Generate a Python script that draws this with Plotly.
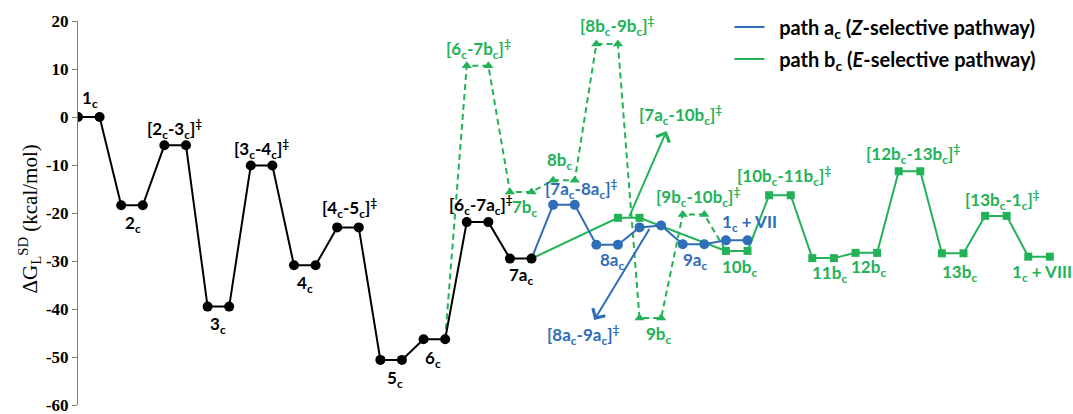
"""Free-energy profile for the Z- and E-selective pathways."""

import plotly.graph_objects as go

# reaction coordinate slots and free energies (kcal/mol)
common_x = list(range(22))
common_dg = [0.0, 0.0, -18.4, -18.4, -5.9, -5.9, -39.5, -39.5, -10.1, -10.1,
             -30.9, -30.9, -23.0, -23.0, -50.6, -50.6, -46.3, -46.3,
             -21.9, -21.9, -29.5, -29.5]

path_a_x = [21, 22, 23, 24, 25, 26, 27, 28, 29, 30, 31]
path_a_dg = [-29.5, -18.3, -18.3, -26.6, -26.6, -23.0, -22.6,
             -26.5, -26.5, -25.7, -25.7]

path_b_x = [21, 25, 26, 30, 31, 32, 33, 34, 35, 36, 37, 38, 39,
            40, 41, 42, 43, 44, 45]
path_b_dg = [-29.5, -21.0, -21.0, -27.9, -27.9, -16.3, -16.3, -29.4, -29.4,
             -28.3, -28.3, -11.3, -11.3, -28.4, -28.4, -20.6, -20.6,
             -29.1, -29.1]

path_b_high_x = [17, 18, 19, 20, 21, 22, 23, 24, 25, 26, 27, 28, 29, 30]
path_b_high_dg = [-46.3, 10.7, 10.7, -15.6, -15.6, -13.2, -13.2, 15.2, 15.2,
                  -41.9, -41.9, -20.3, -20.3, -27.9]

y_ticks = [20, 10, 0, -10, -20, -30, -40, -50, -60]

# state labels: (text, x, y)
common_labels = [
    ("1<sub>c</sub>", 0.55, 3.7),
    ("2<sub>c</sub>", 2.55, -22.3),
    ("[2<sub>c</sub>-3<sub>c</sub>]<sup>‡</sup>", 4.45, -2.6),
    ("3<sub>c</sub>", 6.5, -43.3),
    ("[3<sub>c</sub>-4<sub>c</sub>]<sup>‡</sup>", 8.5, -6.7),
    ("4<sub>c</sub>", 10.5, -34.7),
    ("[4<sub>c</sub>-5<sub>c</sub>]<sup>‡</sup>", 12.55, -19.0),
    ("5<sub>c</sub>", 14.7, -54.5),
    ("6<sub>c</sub>", 16.45, -50.4),
    ("[6<sub>c</sub>-7a<sub>c</sub>]<sup>‡</sup>", 18.65, -18.4),
    ("7a<sub>c</sub>", 20.55, -33.2),
]
path_a_labels = [
    ("[7a<sub>c</sub>-8a<sub>c</sub>]<sup>‡</sup>", 23.3, -14.9),
    ("8a<sub>c</sub>", 24.75, -29.9),
    ("9a<sub>c</sub>", 28.6, -29.9),
    ("1<sub>c</sub> + VII", 31.1, -22.0),
    ("[8a<sub>c</sub>-9a<sub>c</sub>]<sup>‡</sup>", 23.4, -45.4),
]
path_b_labels = [
    ("[6<sub>c</sub>-7b<sub>c</sub>]<sup>‡</sup>", 18.55, 14.1),
    ("7b<sub>c</sub>", 20.7, -18.9),
    ("8b<sub>c</sub>", 22.3, -9.2),
    ("[8b<sub>c</sub>-9b<sub>c</sub>]<sup>‡</sup>", 25.0, 19.0),
    ("[7a<sub>c</sub>-10b<sub>c</sub>]<sup>‡</sup>", 27.9, 0.4),
    ("[9b<sub>c</sub>-10b<sub>c</sub>]<sup>‡</sup>", 28.7, -16.6),
    ("9b<sub>c</sub>", 26.9, -45.4),
    ("10b<sub>c</sub>", 30.65, -31.4),
    ("[10b<sub>c</sub>-11b<sub>c</sub>]<sup>‡</sup>", 32.7, -12.2),
    ("11b<sub>c</sub>", 34.8, -32.8),
    ("12b<sub>c</sub>", 36.6, -31.5),
    ("[12b<sub>c</sub>-13b<sub>c</sub>]<sup>‡</sup>", 38.65, -7.7),
    ("13b<sub>c</sub>", 40.8, -32.6),
    ("[13b<sub>c</sub>-1<sub>c</sub>]<sup>‡</sup>", 42.8, -17.2),
    ("1<sub>c</sub> + VIII", 44.65, -32.6),
]

# pointer arrows: (tail x, tail y, head x, head y)
arrow_a = (26.5, -23.0, 23.9, -42.3)
arrow_b = (25.5, -21.0, 27.25, -2.9)

BLACK = "#000000"
BLUE = "#2E6DB8"
GREEN = "#22B257"
LABEL_FONT = "Lato"


def solid_marker(symbol, size, color):
    # a size array makes plotly treat the trace as a bubble chart, which
    # fades the markers and outlines them in white; switch that off
    return dict(symbol=symbol, size=size, color=color, opacity=1, line=dict(width=0))


fig = go.Figure()

# the first/last point of each coloured path sits on a state drawn by another trace
fig.add_trace(go.Scatter(
    x=path_b_high_x, y=path_b_high_dg,
    mode="lines+markers",
    line=dict(color=GREEN, width=2, dash="6px,4px"),
    marker=solid_marker("triangle-up", [0] + [9] * (len(path_b_high_x) - 2) + [0], GREEN),
    showlegend=False, hoverinfo="skip",
))
fig.add_trace(go.Scatter(
    x=path_b_x, y=path_b_dg,
    mode="lines+markers",
    line=dict(color=GREEN, width=2),
    marker=solid_marker("square", [0] + [8] * (len(path_b_x) - 1), GREEN),
    showlegend=False, hoverinfo="skip",
))
fig.add_trace(go.Scatter(
    x=path_a_x, y=path_a_dg,
    mode="lines+markers",
    line=dict(color=BLUE, width=2),
    marker=solid_marker("circle", [0] + [10] * (len(path_a_x) - 1), BLUE),
    showlegend=False, hoverinfo="skip",
))
fig.add_trace(go.Scatter(
    x=common_x, y=common_dg,
    mode="lines+markers",
    line=dict(color=BLACK, width=2),
    marker=solid_marker("circle", 10, BLACK),
    showlegend=False, hoverinfo="skip",
))

# legend-only entries
fig.add_trace(go.Scatter(
    x=[None], y=[None], mode="lines", line=dict(color=BLUE, width=2),
    name="\u00a0\u00a0path a<sub>c</sub> (<i>Z</i>-selective pathway)", legendgroup="a",
))
fig.add_trace(go.Scatter(
    x=[None], y=[None], mode="lines", line=dict(color=GREEN, width=2),
    name="\u00a0\u00a0path b<sub>c</sub> (<i>E</i>-selective pathway)", legendgroup="b",
))

for labels, color in ((common_labels, BLACK), (path_a_labels, BLUE), (path_b_labels, GREEN)):
    for text, lx, ly in labels:
        fig.add_annotation(
            x=lx, y=ly, text=text, showarrow=False,
            font=dict(family=LABEL_FONT, size=17, color=color, weight="bold"),
        )

for (tx, ty, hx, hy), color in ((arrow_a, BLUE), (arrow_b, GREEN)):
    fig.add_annotation(
        x=hx, y=hy, ax=tx, ay=ty, xref="x", yref="y", axref="x", ayref="y",
        text="", showarrow=True, arrowhead=4, arrowsize=1.4, arrowwidth=2,
        arrowcolor=color, standoff=0, startstandoff=0,
    )

# y-axis title as a rotated annotation so it can sit where the original does
fig.add_annotation(
    xref="paper", yref="paper", x=-0.049, y=0.485,
    xanchor="center", yanchor="middle", textangle=-90, showarrow=False,
    text="ΔG<sub>L</sub><sup>SD</sup> (kcal/mol)",
    font=dict(family="Liberation Serif", size=21, color=BLACK),
)

fig.update_layout(
    width=1073, height=414,
    margin=dict(l=78, r=8, t=17, b=9),
    paper_bgcolor="white", plot_bgcolor="white",
    legend=dict(
        x=0.66, y=1.035, xanchor="left", yanchor="top",
        font=dict(family=LABEL_FONT, size=20, color=BLACK, weight="bold"),
        tracegroupgap=3, itemwidth=30, bgcolor="rgba(0,0,0,0)",
    ),
)
fig.update_xaxes(range=[0, 45.7], visible=False)
fig.update_yaxes(
    range=[-60, 20], tickvals=y_ticks, ticktext=[str(t) for t in y_ticks],
    showline=True, linecolor="#7f7f7f", linewidth=1,
    ticks="outside", ticklen=5, tickcolor="#7f7f7f",
    showgrid=False, zeroline=False, ticklabeloverflow="allow", automargin=False,
    tickfont=dict(family="Liberation Serif", size=17, color=BLACK, weight="bold"),
)

# the page body has a default margin; remove it so the figure fills the window
fig.write_html(
    "out.html",
    config={"displayModeBar": False},
    post_script="document.body.style.margin = '0';",
)
